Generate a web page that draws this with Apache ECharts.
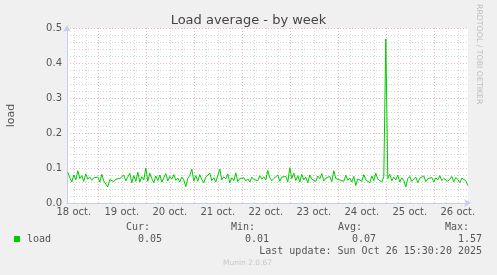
<!DOCTYPE html>
<html>
<head>
<meta charset="utf-8">
<script src="https://cdn.jsdelivr.net/npm/echarts@6/dist/echarts.min.js"></script>
<style>
html,body{margin:0;padding:0;background:#f0f0f0;}
#c{width:497px;height:275px;}
</style>
</head>
<body>
<div id="c"></div>
<script>
// hours counted from 18 oct 00:00
const startHour = 9;
const loadValues = [
  0.088,0.072,0.060,0.080,0.066,0.092,0.070,0.078,0.062,0.083,0.068,0.074,0.065,0.072,0.069,
  0.074,0.060,0.082,0.063,0.058,0.046,0.067,0.066,0.061,0.068,0.064,0.070,0.067,0.080,0.063,0.074,0.085,0.058,0.078,0.062,0.088,0.060,0.075,0.066,
  0.100,0.062,0.085,0.070,0.058,0.077,0.064,0.080,0.060,0.072,0.084,0.063,0.076,0.068,0.081,0.065,0.071,0.060,0.074,0.066,0.047,0.070,0.079,0.097,
  0.063,0.078,0.062,0.081,0.067,0.058,0.074,0.070,0.085,0.064,0.072,0.060,0.079,0.097,0.066,0.075,0.069,0.083,0.058,0.072,0.064,0.086,0.061,0.070,
  0.066,0.072,0.063,0.069,0.060,0.074,0.067,0.071,0.064,0.078,0.068,0.075,0.066,0.093,0.072,0.064,0.070,0.067,0.080,0.062,0.074,0.069,0.076,0.060,
  0.101,0.070,0.085,0.064,0.078,0.060,0.082,0.066,0.074,0.058,0.080,0.068,0.072,0.062,0.077,0.069,0.084,0.063,0.071,0.066,0.076,0.061,0.092,0.070,
  0.074,0.066,0.068,0.062,0.079,0.065,0.071,0.060,0.076,0.050,0.069,0.073,0.062,0.081,0.066,0.070,0.058,0.077,0.064,0.085,0.068,0.072,0.060,0.075,
  0.469,0.070,0.082,0.063,0.074,0.066,0.079,0.060,0.072,0.064,0.046,0.070,0.076,0.062,0.068,0.074,0.058,0.071,0.066,0.077,0.061,0.069,0.064,0.073,
  0.060,0.072,0.066,0.078,0.064,0.070,0.074,0.062,0.068,0.076,0.061,0.073,0.067,0.058,0.071,0.075,0.064,0.050
];
const dayLabels = ['18 oct.','19 oct.','20 oct.','21 oct.','22 oct.','23 oct.','24 oct.','25 oct.','26 oct.'];
const yTicks = [0, 0.1, 0.2, 0.3, 0.4, 0.5];
const legendHeads = ['Cur:', 'Min:', 'Avg:', 'Max:'];
const legendValues = ['0.05', '0.01', '0.07', '1.57'];
const seriesName = 'load';
const lastUpdate = 'Last update: Sun Oct 26 15:30:20 2025';

const xMin = 8.6, xMax = 209.1;
const labelHours = dayLabels.map((d, i) => 12 + 24 * i);
const midnightHours = [];
const sixHours = [];
for (let h = 0; h <= 216; h += 6) {
  if (h < xMin || h > xMax) continue;
  if (h % 24 === 0) midnightHours.push(h); else sixHours.push(h);
}
const data = loadValues.map((v, i) => [startHour + i, v]);

const axisCol = '#c8ccf2';
const red = '#f2b4b4';
const grey = '#d4d4d4';
const txt = '#555';

const chart = echarts.init(document.getElementById('c'), null, {renderer: 'canvas'});
const legendX = [150, 255, 362, 469];
const graphics = [];
legendHeads.forEach((t, i) => {
  graphics.push({type: 'text', right: 497 - legendX[i], top: 222, style: {text: t, font: '10px "DejaVu Sans Mono"', fill: txt}});
});
legendValues.forEach((t, i) => {
  graphics.push({type: 'text', right: 497 - [162, 269, 376, 482][i], top: 234, style: {text: t, font: '10px "DejaVu Sans Mono"', fill: txt}});
});
graphics.push({type: 'rect', shape: {x: 14, y: 236, width: 6, height: 6}, style: {fill: '#00cc00'}});
graphics.push({type: 'text', left: 27, top: 234, style: {text: seriesName, font: '10px "DejaVu Sans Mono"', fill: txt}});
graphics.push({type: 'text', right: 15, top: 246, style: {text: lastUpdate, font: '10px "DejaVu Sans Mono"', fill: txt}});
graphics.push({type: 'text', left: 223, top: 259, style: {text: 'Munin 2.0.67', font: '7.5px "DejaVu Sans"', fill: '#c8c8c8'}});
graphics.push({type: 'text', x: 483, y: 4, rotation: -Math.PI / 2, style: {text: 'RRDTOOL / TOBI OETIKER', font: '7.8px "DejaVu Sans"', fill: '#bdbdbd'}});

chart.setOption({
  backgroundColor: '#f0f0f0',
  animation: false,
  title: {
    text: 'Load average - by week', left: 'center', top: 9,
    textStyle: {fontFamily: 'DejaVu Sans', fontSize: 13, fontWeight: 'normal', color: '#444'}
  },
  grid: {left: 67, right: 29, top: 28, bottom: 72, show: true, backgroundColor: '#fff', borderWidth: 0, outerBoundsMode: 'none', containLabel: false},
  xAxis: [{
    type: 'value', min: xMin, max: xMax,
    axisLine: {show: true, lineStyle: {color: axisCol, width: 1}, symbol: ['none', 'arrow'], symbolSize: [6, 7], symbolOffset: [0, 3]},
    axisTick: {show: false, customValues: midnightHours},
    axisLabel: {customValues: labelHours, formatter: v => dayLabels[(v - 12) / 24], color: txt, fontFamily: 'DejaVu Sans', fontSize: 10, margin: 4},
    splitLine: {show: true, lineStyle: {color: red, type: [1, 2], width: 1}}
  }, {
    type: 'value', min: xMin, max: xMax, position: 'bottom',
    axisLine: {show: false}, axisLabel: {show: false},
    axisTick: {show: false, customValues: sixHours},
    splitLine: {show: true, lineStyle: {color: grey, type: [1, 2], width: 1}}
  }],
  yAxis: {
    type: 'value', min: 0, max: 0.5, interval: 0.1,
    name: 'load', nameLocation: 'middle', nameGap: 50,
    nameTextStyle: {color: txt, fontFamily: 'DejaVu Sans', fontSize: 11},
    axisLine: {show: true, lineStyle: {color: axisCol, width: 1}, symbol: ['none', 'arrow'], symbolSize: [6, 7], symbolOffset: [0, 3]},
    axisTick: {show: false},
    axisLabel: {formatter: v => v.toFixed(1), color: txt, fontFamily: 'DejaVu Sans', fontSize: 10, margin: 5},
    splitLine: {show: true, lineStyle: {color: red, type: [1, 2], width: 1}},
    minorTick: {show: false, splitNumber: 5},
    minorSplitLine: {show: true, lineStyle: {color: grey, type: [1, 2], width: 1}}
  },
  series: [{
    type: 'line', name: seriesName, data: data, showSymbol: false, symbol: 'none',
    lineStyle: {color: '#00cc00', width: 1}, xAxisIndex: 0
  }],
  graphic: graphics
});
</script>
</body>
</html>
